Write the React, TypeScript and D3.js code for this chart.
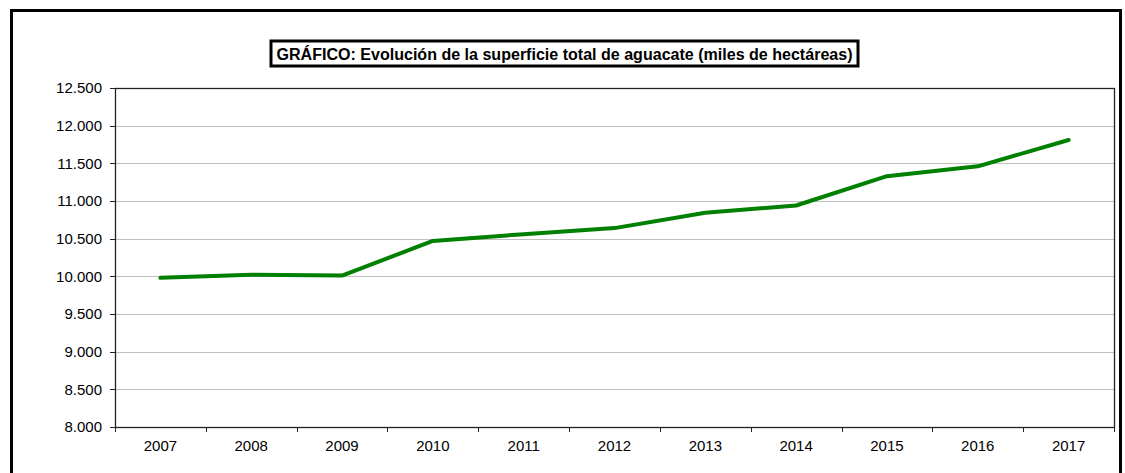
import React from "react";
import * as d3 from "d3";

const years = ["2007", "2008", "2009", "2010", "2011", "2012", "2013", "2014", "2015", "2016", "2017"];
const superficie = [9980, 10020, 10010, 10470, 10560, 10640, 10845, 10940, 11330, 11460, 11810];
const yTicks = [8000, 8500, 9000, 9500, 10000, 10500, 11000, 11500, 12000, 12500];
const title = "GRÁFICO: Evolución de la superficie total de aguacate (miles de hectáreas)";

const fmt = (v: number) => {
  const s = String(v);
  return s.length > 3 ? s.slice(0, s.length - 3) + "." + s.slice(s.length - 3) : s;
};

export default function App() {
  const W = 1125, H = 473;
  const left = 115, right = 1114, top = 88, bottom = 427;
  const x = d3.scaleBand<string>().domain(years).range([left, right]);
  const y = d3.scaleLinear().domain([8000, 12500]).range([bottom, top]);
  const line = d3.line<number>()
    .x((_, i) => (x(years[i]) as number) + x.bandwidth() / 2)
    .y((d) => y(d));
  const font = "'Liberation Sans', Arial, sans-serif";
  return (
    <svg width={W} height={H} style={{ position: "absolute", left: 0, top: 0, display: "block" }} fontFamily={font}>
      <rect x={0} y={0} width={W} height={H} fill="#fff" />
      <rect x={11.5} y={10.5} width={1109} height={480} fill="none" stroke="#000" strokeWidth={3} />
      <rect x={271} y={41} width={587} height={25} fill="#fff" stroke="#000" strokeWidth={3} />
      <text x={564.5} y={59.5} textAnchor="middle" fontSize={16} fontWeight="bold" fill="#000" textLength={576} lengthAdjust="spacingAndGlyphs">{title}</text>
      {yTicks.map((t) => (
        <g key={t}>
          {t !== 8000 && t !== 12500 && (
            <line x1={left} x2={right} y1={Math.round(y(t)) + 0.5} y2={Math.round(y(t)) + 0.5} stroke="#c0c0c0" strokeWidth={1} />
          )}
          <line x1={left - 5} x2={left} y1={Math.round(y(t)) + 0.5} y2={Math.round(y(t)) + 0.5} stroke="#222" />
          <text x={102} y={y(t) + 5.3} textAnchor="end" fontSize={15} fill="#000">{fmt(t)}</text>
        </g>
      ))}
      <rect x={left + 0.5} y={top + 0.5} width={right - left} height={bottom - top} fill="none" stroke="#222" strokeWidth={1.3} />
      {years.map((yr, i) => (
        <g key={yr}>
          {i > 0 && (
            <line x1={Math.round(x(yr) as number) + 0.5} x2={Math.round(x(yr) as number) + 0.5} y1={bottom} y2={bottom + 5} stroke="#222" />
          )}
          <text x={(x(yr) as number) + x.bandwidth() / 2} y={450.5} textAnchor="middle" fontSize={15} fill="#000">{yr}</text>
        </g>
      ))}
      <line x1={right + 0.5} x2={right + 0.5} y1={bottom} y2={bottom + 5} stroke="#222" />
      <line x1={left + 0.5} x2={left + 0.5} y1={bottom} y2={bottom + 5} stroke="#222" />
      <path d={line(superficie) as string} fill="none" stroke="#008000" strokeWidth={4} strokeLinejoin="round" strokeLinecap="round" />
    </svg>
  );
}
